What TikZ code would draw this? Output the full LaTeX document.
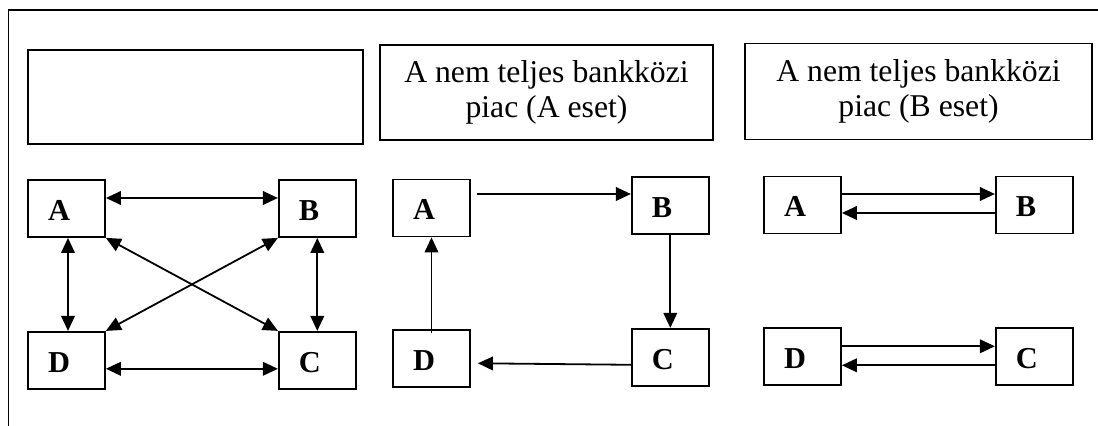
\documentclass[tikz,border=0pt]{standalone}
\usepackage{fontspec}
\setmainfont{Liberation Serif}
\usetikzlibrary{arrows.meta,positioning}

\begin{document}
\begin{tikzpicture}[
x=0.5pt, y=0.5pt,
node distance=46.5pt and 86pt,
title/.style={draw, line width=0.9pt, align=center, inner sep=0pt, font=\fontsize{15.85}{17.5}\selectfont},
bank/.style={draw, line width=0.9pt, align=left, text width=18.5pt, inner xsep=10pt, inner ysep=0pt, minimum height=28.5pt, text height=12pt, text depth=0pt, font=\fontsize{15.2}{18}\selectfont\bfseries},
oneway/.style={-{Triangle[length=7.5pt, width=6.8pt]}, line width=0.9pt},
twoway/.style={{Triangle[length=7.5pt, width=6.8pt]}-{Triangle[length=7.5pt, width=6.8pt]}, line width=0.9pt}
]
\useasboundingbox (0,0) rectangle (1098,-426);
\draw[line width=0.9pt] (8.5,-426) -- (8.5,-10) -- (1098,-10);

% headings
\node[title, minimum width=167.5pt, minimum height=47pt] (full) at (195.5,-97) {};
\node[title, minimum width=166.5pt, minimum height=47.5pt] (caseA) at (546.5,-92.5) {A nem teljes bankközi\\piac (A eset)};
\node[title, minimum width=173.5pt, minimum height=48pt] (caseB) at (918.5,-91.5) {A nem teljes bankközi\\piac (B eset)};

% full market
\node[bank] (a1) at (66.5,-208.5) {A};
\node[bank, right=of a1] (b1) {B};
\node[bank, below=of a1] (d1) {D};
\node[bank, below=of b1] (c1) {C};

% case A
\node[bank] (a2) at (431.5,-208) {A};
\node[bank, right=80pt of a2, yshift=1.25pt] (b2) {B};
\node[bank, below=46pt of a2] (d2) {D};
\node[bank, below=of b2] (c2) {C};

% case B
\node[bank] (a3) at (802.5,-205) {A};
\node[bank, right=76.5pt of a3] (b3) {B};
\node[bank, below=of a3] (d3) {D};
\node[bank, below=of b3] (c3) {C};

\draw[twoway] ([yshift=5.25pt]a1.east) -- ([yshift=5.25pt]b1.west);
\draw[twoway] ([yshift=-4.25pt]d1.east) -- ([yshift=-4.25pt]c1.west);
\draw[twoway] ([xshift=0.75pt]a1.south) -- ([xshift=0.75pt]d1.north);
\draw[twoway] (b1.south) -- (c1.north);
\draw[twoway] (a1.south east) -- (c1.north west);
\draw[twoway] (b1.south west) -- (d1.north east);

\draw[oneway] ([shift={(3pt,7pt)}]a2.east) -- ([yshift=5.75pt]b2.west);
\draw[oneway] (b2.south) -- (c2.north);
\draw[oneway] ([yshift=-3.75pt]c2.west) -- ([shift={(3.5pt,-2.25pt)}]d2.east);
\draw[oneway] ([yshift=-2pt]d2.north) -- (a2.south);

\draw[oneway] ([yshift=5.5pt]a3.east) -- ([yshift=5.5pt]b3.west);
\draw[oneway] ([yshift=-4pt]b3.west) -- ([yshift=-4pt]a3.east);
\draw[oneway] ([yshift=5.25pt]d3.east) -- ([yshift=5.25pt]c3.west);
\draw[oneway] ([yshift=-4.25pt]c3.west) -- ([yshift=-4.25pt]d3.east);
\end{tikzpicture}
\end{document}
